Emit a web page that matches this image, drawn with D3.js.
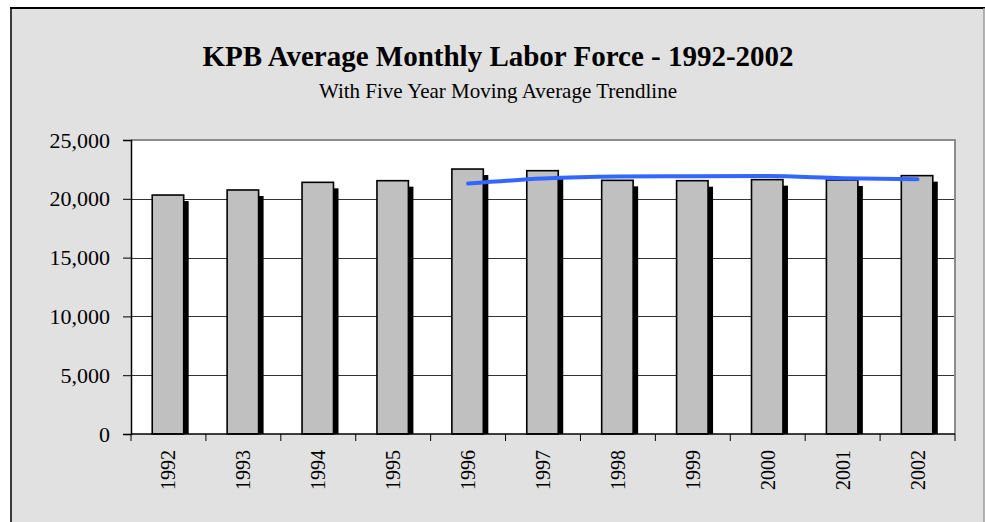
<!DOCTYPE html>
<html>
<head>
<meta charset="utf-8">
<script src="https://cdn.jsdelivr.net/npm/d3@7"></script>
<style>
  html, body { margin: 0; padding: 0; background: #ffffff; }
  svg { display: block; }
  svg text { font-family: 'Liberation Serif', 'Times New Roman', Lato, serif; }
</style>
</head>
<body>
<svg id="chart" width="985" height="522"></svg>
<script>
// Annual average monthly labor force, Kenai Peninsula Borough
const years = ["1992", "1993", "1994", "1995", "1996", "1997", "1998", "1999", "2000", "2001", "2002"];
const laborForce = [20320, 20750, 21400, 21540, 22530, 22390, 21570, 21540, 21630, 21600, 21970];

// Five-year moving average (first value available in 1996)
const trendYears = ["1996", "1997", "1998", "1999", "2000", "2001", "2002"];
const trendValues = [21300, 21720, 21890, 21920, 21930, 21750, 21660];

const yTicks = [0, 5000, 10000, 15000, 20000, 25000];

const titleText = "KPB Average Monthly Labor Force - 1992-2002";
const subtitleText = "With Five Year Moving Average Trendline";

const svg = d3.select("#chart");

// Chart frame
svg.append("rect")
  .attr("x", 11).attr("y", 8)
  .attr("width", 973).attr("height", 530)
  .attr("fill", "#e1e1e1");
svg.append("line").attr("x1", 11).attr("x2", 11).attr("y1", 7).attr("y2", 522)
  .attr("stroke", "#3a3a3a").attr("stroke-width", 2);
svg.append("line").attr("x1", 10).attr("x2", 985).attr("y1", 8).attr("y2", 8)
  .attr("stroke", "#000").attr("stroke-width", 2);
svg.append("line").attr("x1", 984).attr("x2", 984).attr("y1", 8).attr("y2", 522)
  .attr("stroke", "#9a9a9a").attr("stroke-width", 1.5);

// Titles
svg.append("text")
  .attr("x", 498).attr("y", 66)
  .attr("text-anchor", "middle")
  .attr("font-size", 29).attr("font-weight", "bold")
  .attr("fill", "#000")
  .text(titleText);
svg.append("text")
  .attr("x", 498).attr("y", 98)
  .attr("text-anchor", "middle")
  .attr("font-size", 21)
  .attr("fill", "#000")
  .text(subtitleText);

// Plot area
const plot = { left: 131, right: 955, top: 140, bottom: 434 };

const x = d3.scaleBand().domain(years).range([plot.left, plot.right]).padding(0);
const y = d3.scaleLinear().domain([0, 25000]).range([plot.bottom, plot.top]);

svg.append("rect")
  .attr("x", plot.left).attr("y", plot.top)
  .attr("width", plot.right - plot.left).attr("height", plot.bottom - plot.top)
  .attr("fill", "#ffffff");

// Horizontal gridlines
svg.append("g")
  .selectAll("line")
  .data(yTicks.filter(d => d > 0 && d < 25000))
  .join("line")
  .attr("x1", plot.left).attr("x2", plot.right)
  .attr("y1", d => Math.round(y(d)) + 0.5).attr("y2", d => Math.round(y(d)) + 0.5)
  .attr("stroke", "#333").attr("stroke-width", 1);

// Plot border (top and right)
svg.append("path")
  .attr("d", `M${plot.left},${plot.top} H${plot.right} V${plot.bottom}`)
  .attr("fill", "none").attr("stroke", "#8c8c8c").attr("stroke-width", 2);

// Bars with drop shadows
const barW = x.bandwidth() * 0.42;
const barX = d => x(d) + (x.bandwidth() - barW) / 2 - 0.5;

svg.append("g")
  .selectAll("rect")
  .data(years)
  .join("rect")
  .attr("x", (d) => barX(d) + 5)
  .attr("y", (d, i) => y(laborForce[i]) + 6)
  .attr("width", barW)
  .attr("height", (d, i) => plot.bottom - y(laborForce[i]) - 6)
  .attr("fill", "#000");

svg.append("g")
  .selectAll("rect")
  .data(years)
  .join("rect")
  .attr("x", d => barX(d))
  .attr("y", (d, i) => y(laborForce[i]))
  .attr("width", barW)
  .attr("height", (d, i) => plot.bottom - y(laborForce[i]))
  .attr("fill", "#c0c0c0")
  .attr("stroke", "#000")
  .attr("stroke-width", 1.6);

// Moving average trendline
const line = d3.line()
  .x((d, i) => x(trendYears[i]) + x.bandwidth() / 2)
  .y(d => y(d))
  .curve(d3.curveMonotoneX);

svg.append("path")
  .datum(trendValues)
  .attr("d", line)
  .attr("fill", "none")
  .attr("stroke", "#3366ff")
  .attr("stroke-width", 4)
  .attr("stroke-linecap", "round");

// Y axis
const yAxis = d3.axisLeft(y)
  .tickValues(yTicks)
  .tickFormat(d3.format(","))
  .tickSize(8)
  .tickPadding(13);

const gy = svg.append("g")
  .attr("transform", `translate(${plot.left},0)`)
  .call(yAxis)
  .attr("font-family", null);
gy.select(".domain").attr("stroke", "#000").attr("stroke-width", 1.5);
gy.selectAll(".tick line").attr("stroke", "#000");
gy.selectAll(".tick text")
  .attr("font-size", 22)
  .attr("fill", "#000");

// X axis: ticks at category boundaries
const boundaries = years.map(d => x(d)).concat([plot.right]);
const gx = svg.append("g");
gx.append("line")
  .attr("x1", plot.left).attr("x2", plot.right)
  .attr("y1", plot.bottom).attr("y2", plot.bottom)
  .attr("stroke", "#000").attr("stroke-width", 1.5);
gx.selectAll(".bt")
  .data(boundaries)
  .join("line")
  .attr("class", "bt")
  .attr("x1", d => d).attr("x2", d => d)
  .attr("y1", plot.bottom).attr("y2", plot.bottom + 7)
  .attr("stroke", "#000").attr("stroke-width", 1);

gx.selectAll("text")
  .data(years)
  .join("text")
  .attr("transform", d => `translate(${x(d) + x.bandwidth() / 2 + 7},450) rotate(-90)`)
  .attr("text-anchor", "end")
  .attr("font-size", 20)
  .attr("fill", "#000")
  .text(d => d);
</script>
</body>
</html>
